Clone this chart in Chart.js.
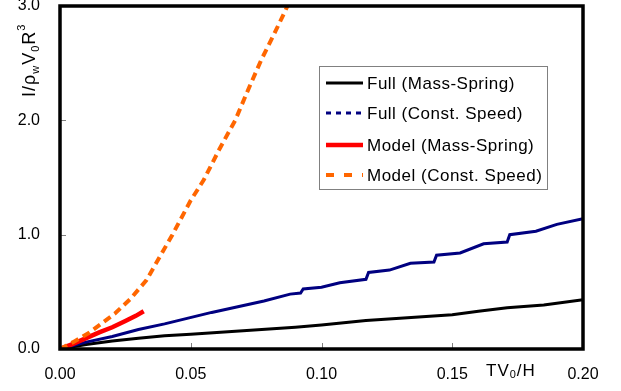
<!DOCTYPE html>
<html>
<head>
<meta charset="utf-8">
<script src="https://cdn.jsdelivr.net/npm/chart.js@4.4.1/dist/chart.umd.min.js"></script>
<style>
  body { margin: 0; background: #fff; }
  canvas { display: block; }
</style>
</head>
<body>
<canvas id="chart" width="621" height="391"></canvas>
<script>
  // series: x = TV0/H, y = I/(rho_w V0 R^3)
  const fullMsX = [0, 0.01, 0.02, 0.03, 0.04, 0.05, 0.06, 0.07, 0.08, 0.09, 0.10, 0.117, 0.13, 0.15, 0.16, 0.171, 0.185, 0.20];
  const fullMsY = [0, 0.04, 0.07, 0.095, 0.115, 0.13, 0.145, 0.16, 0.175, 0.19, 0.21, 0.25, 0.27, 0.30, 0.33, 0.36, 0.385, 0.43];

  const fullCsX = [0, 0.005, 0.01, 0.02, 0.03, 0.04, 0.049, 0.058, 0.068, 0.078, 0.088, 0.092, 0.093, 0.100, 0.107, 0.117, 0.118, 0.126, 0.134, 0.143, 0.144, 0.153, 0.162, 0.171, 0.172, 0.182, 0.190, 0.200];
  const fullCsY = [0, 0.03, 0.06, 0.11, 0.17, 0.22, 0.27, 0.32, 0.37, 0.42, 0.48, 0.49, 0.525, 0.54, 0.58, 0.61, 0.67, 0.69, 0.75, 0.76, 0.82, 0.84, 0.92, 0.935, 1.0, 1.03, 1.09, 1.14];

  const modelMsX = [0, 0.005, 0.01, 0.015, 0.02, 0.025, 0.029, 0.032];
  const modelMsY = [0, 0.045, 0.095, 0.145, 0.19, 0.245, 0.29, 0.33];

  const modelCsX = [0, 0.005, 0.011, 0.021, 0.027, 0.033, 0.038, 0.043, 0.050, 0.055, 0.061, 0.067, 0.072, 0.077, 0.082, 0.087];
  const modelCsY = [0, 0.06, 0.14, 0.31, 0.44, 0.60, 0.80, 1.0, 1.30, 1.48, 1.75, 2.0, 2.27, 2.53, 2.76, 3.0];

  const seriesNames = ['Full (Mass-Spring)', 'Full (Const. Speed)', 'Model (Mass-Spring)', 'Model (Const. Speed)'];
  const xTicks = [0, 0.05, 0.10, 0.15, 0.20];
  const yTicks = [0, 1, 2, 3];

  function pts(xs, ys) {
    return xs.map(function (x, i) { return { x: x, y: ys[i] }; });
  }

  const FONT = '"Liberation Sans", Arial, sans-serif';

  const styles = [
    { color: '#000000', width: 3, dash: [], legendDash: [] },
    { color: '#000080', width: 3, dash: [], legendDash: [5, 5] },
    { color: '#ff0000', width: 4.5, dash: [], legendDash: [] },
    { color: '#ff6600', width: 4, dash: [8, 5], legendDash: [8, 10] }
  ];

  // inner ticks, frame, legend box and axis titles
  const decor = {
    id: 'decor',
    afterDatasetsDraw(chart) {
      const ctx = chart.ctx;
      const a = chart.chartArea;
      const xs = chart.scales.x, ys = chart.scales.y;
      ctx.save();
      ctx.strokeStyle = '#808080';
      ctx.lineWidth = 1;
      ctx.beginPath();
      xTicks.slice(1, -1).forEach(function (v) {
        const px = Math.round(xs.getPixelForValue(v)) + 0.5;
        ctx.moveTo(px, a.bottom); ctx.lineTo(px, a.bottom - 6);
      });
      yTicks.slice(1, -1).forEach(function (v) {
        const py = Math.round(ys.getPixelForValue(v)) + 0.5;
        ctx.moveTo(a.left, py); ctx.lineTo(a.left + 6, py);
      });
      ctx.stroke();

      ctx.strokeStyle = '#000';
      ctx.lineWidth = 3.5;
      ctx.strokeRect(a.left, a.top, a.right - a.left, a.bottom - a.top);

      // legend
      const lx = 319, ly = 66, lw = 228, lh = 123;
      ctx.fillStyle = '#fff';
      ctx.fillRect(lx, ly, lw, lh);
      ctx.strokeStyle = '#808080';
      ctx.lineWidth = 1;
      ctx.strokeRect(lx + 0.5, ly + 0.5, lw, lh);
      const rows = [83, 113, 145, 175];
      ctx.font = '17px ' + FONT;
      ctx.letterSpacing = '0.5px';
      ctx.textBaseline = 'middle';
      ctx.textAlign = 'left';
      seriesNames.forEach(function (name, i) {
        const s = styles[i];
        ctx.strokeStyle = s.color;
        ctx.lineWidth = s.width;
        ctx.setLineDash(s.legendDash);
        ctx.beginPath();
        ctx.moveTo(326, rows[i]); ctx.lineTo(363, rows[i]);
        ctx.stroke();
        ctx.setLineDash([]);
        ctx.fillStyle = '#000';
        ctx.fillText(name, 367, rows[i] + 1);
      });

      // x title TV0/H
      ctx.fillStyle = '#000';
      ctx.textBaseline = 'alphabetic';
      ctx.letterSpacing = '1px';
      let x = 486;
      const by = 376;
      ctx.font = '17px ' + FONT;
      ctx.fillText('TV', x, by); x += ctx.measureText('TV').width;
      ctx.font = '11px ' + FONT;
      ctx.fillText('0', x, by + 2); x += ctx.measureText('0').width;
      ctx.font = '17px ' + FONT;
      ctx.fillText('/H', x, by);

      // y title I/rho_w V0 R^3, rotated
      ctx.letterSpacing = '0px';
      ctx.translate(35, 97);
      ctx.rotate(-Math.PI / 2);
      const parts = [
        ['I', 18, 0], ['/', 18, 0], ['ρ', 18, 0], ['w', 11, 4], ['V', 18, 0], ['0', 11, 4], ['R', 18, 0], ['3', 11, -10]
      ];
      let t = 0;
      parts.forEach(function (p) {
        ctx.font = p[1] + 'px ' + FONT;
        ctx.fillText(p[0], t, p[2]);
        t += ctx.measureText(p[0]).width + 1;
      });
      ctx.restore();
    }
  };

  const datasets = seriesNames.map(function (name, i) {
    const xs = [fullMsX, fullCsX, modelMsX, modelCsX][i];
    const ys = [fullMsY, fullCsY, modelMsY, modelCsY][i];
    return {
      label: name,
      data: pts(xs, ys),
      showLine: true,
      borderColor: styles[i].color,
      backgroundColor: styles[i].color,
      borderWidth: styles[i].width,
      borderDash: styles[i].dash,
      pointRadius: 0,
      tension: 0,
      order: [4, 3, 2, 1][i]
    };
  });

  const tickFont = { family: FONT, size: 16 };

  new Chart(document.getElementById('chart').getContext('2d'), {
    type: 'scatter',
    data: { datasets: datasets },
    options: {
      responsive: false,
      animation: false,
      layout: { padding: { left: 0, right: 38, top: 6, bottom: 0 } },
      plugins: { legend: { display: false }, tooltip: { enabled: false } },
      scales: {
        x: {
          type: 'linear', min: 0, max: 0.2,
          afterBuildTicks: function (s) { s.ticks = xTicks.map(function (v) { return { value: v }; }); },
          ticks: { color: '#000', font: tickFont, padding: 8, callback: function (v) { return v.toFixed(2); } },
          grid: { display: false },
          border: { display: false },
          afterFit: function (s) { s.height = 42; s.paddingLeft = 0; s.paddingRight = 0; }
        },
        y: {
          type: 'linear', min: 0, max: 3,
          afterBuildTicks: function (s) { s.ticks = yTicks.map(function (v) { return { value: v }; }); },
          ticks: { color: '#000', font: tickFont, padding: 12, callback: function (v) { return v.toFixed(1); } },
          grid: { display: false },
          border: { display: false },
          afterFit: function (s) { s.width = 60; s.paddingTop = 0; s.paddingBottom = 0; }
        }
      }
    },
    plugins: [decor]
  });
</script>
</body>
</html>
